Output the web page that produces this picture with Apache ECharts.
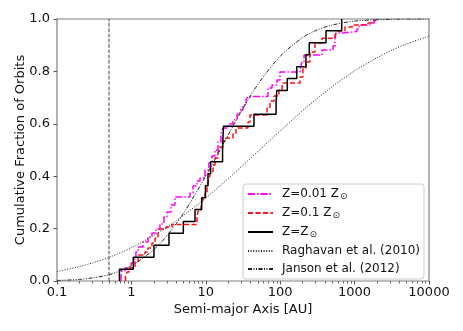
<!DOCTYPE html>
<html>
<head>
<meta charset="utf-8">
<script src="https://cdn.jsdelivr.net/npm/echarts@6/dist/echarts.min.js"></script>
<style>
html, body { margin: 0; padding: 0; background: #fff; }
#chart { width: 463px; height: 331px; }
</style>
</head>
<body>
<div id="chart"></div>
<script>
// semi-major axes [AU] and cumulative fraction
const zLowA = [0.725, 0.748, 0.82, 0.99, 1.08, 1.15, 1.23, 1.43, 1.67, 1.89, 2.14, 2.42, 2.74, 3.01, 3.40, 3.85, 6.13, 6.73, 7.62, 8.36, 9.75, 11.0, 12.1, 13.3, 14.6, 16.0, 17.0, 19.9, 23.2, 26.3, 28.8, 31.6, 34.7, 36.9, 68.5, 77.6, 90.6, 99.3, 185, 196, 209, 365, 513, 546, 563, 698, 1076, 1146, 1610, 1824, 1940]
const zLowFrac = [0.019, 0.038, 0.050, 0.069, 0.084, 0.111, 0.130, 0.149, 0.168, 0.183, 0.198, 0.218, 0.244, 0.263, 0.290, 0.321, 0.336, 0.363, 0.382, 0.393, 0.424, 0.450, 0.477, 0.500, 0.531, 0.561, 0.584, 0.599, 0.615, 0.637, 0.653, 0.672, 0.691, 0.704, 0.737, 0.748, 0.767, 0.798, 0.809, 0.836, 0.863, 0.882, 0.897, 0.927, 0.947, 0.952, 0.962, 0.977, 0.985, 0.992, 1.0]

const zMidA = [0.833, 0.873, 0.929, 1.12, 1.23, 1.52, 1.67, 1.89, 2.08, 2.28, 2.42, 2.92, 3.51, 7.62, 7.85, 8.62, 9.16, 9.75, 10.4, 11.0, 11.7, 12.5, 13.3, 14.6, 15.5, 17.0, 18.7, 23.2, 25.5, 36.9, 39.3, 66.5, 73.0, 82.6, 96.4, 106, 185, 202, 222, 251, 294, 365, 546, 580, 743, 951, 1514, 1714, 1824]
const zMidFrac = [0.019, 0.034, 0.050, 0.073, 0.099, 0.111, 0.126, 0.145, 0.164, 0.183, 0.198, 0.206, 0.216, 0.244, 0.267, 0.290, 0.313, 0.336, 0.359, 0.389, 0.416, 0.443, 0.469, 0.492, 0.511, 0.534, 0.546, 0.565, 0.584, 0.607, 0.634, 0.660, 0.687, 0.706, 0.729, 0.756, 0.779, 0.813, 0.836, 0.874, 0.908, 0.927, 0.939, 0.954, 0.969, 0.977, 0.985, 0.992, 1.0]

const zSunA = [0.69, 1.06, 2.01, 3.2, 4.99, 7.16, 8.8, 9.9, 10.7, 11.6, 16.8, 17.0, 17.3, 44.4, 88, 90, 124.5, 166.7, 222, 246, 413, 671]
const zSunFrac = [0.045, 0.091, 0.136, 0.182, 0.227, 0.273, 0.318, 0.364, 0.409, 0.455, 0.5, 0.545, 0.591, 0.636, 0.682, 0.727, 0.773, 0.818, 0.864, 0.909, 0.955, 1.0]

// model curves
const modelA = [0.1, 0.2, 0.3, 0.5, 1, 2, 3, 5, 10, 20, 30, 50, 100, 200, 300, 500, 1000, 2000, 3000, 5000, 10000]
const raghavan = [0.036, 0.055, 0.069, 0.090, 0.127, 0.174, 0.205, 0.250, 0.317, 0.391, 0.436, 0.494, 0.573, 0.650, 0.692, 0.742, 0.802, 0.852, 0.878, 0.905, 0.934]
const janson = [0.002, 0.006, 0.012, 0.024, 0.058, 0.120, 0.173, 0.258, 0.401, 0.558, 0.648, 0.750, 0.858, 0.929, 0.956, 0.977, 0.992, 0.997, 0.999, 1.0, 1.0]

const cutA = [0.5, 0.5]
const cutFrac = [0, 1]

const xTickLabels = ['0.1', '1', '10', '100', '1000', '10000']
const yTickLabels = ['0.0', '0.2', '0.4', '0.6', '0.8', '1.0']
const minorTicks = [0.2, 0.3, 0.4, 0.5, 0.6, 0.7, 0.8, 0.9, 2, 3, 4, 5, 6, 7, 8, 9, 20, 30, 40, 50, 60, 70, 80, 90, 200, 300, 400, 500, 600, 700, 800, 900, 2000, 3000, 4000, 5000, 6000, 7000, 8000, 9000]

const legendNames = ['Z=0.01 Z⊙', 'Z=0.1 Z⊙', 'Z=Z⊙', 'Raghavan et al. (2010)', 'Janson et al. (2012)']
const legendRich = {
  'Z=0.01 Z⊙': 'Z=0.01 Z{sun|⊙}',
  'Z=0.1 Z⊙': 'Z=0.1 Z{sun|⊙}',
  'Z=Z⊙': 'Z=Z{sun|⊙}',
  'Raghavan et al. (2010)': 'Raghavan et al. (2010)',
  'Janson et al. (2012)': 'Janson et al. (2012)'
}

const font = 'DejaVu Sans'

function cdf(a, f) {
  const pts = [[a[0], 0]]
  a.forEach((v, i) => pts.push([v, f[i]]))
  return pts
}
function pairs(a, f) {
  return a.map((v, i) => [v, f[i]])
}

const stepLine = (name, data, color, type, z) => ({
  name: name,
  type: 'line',
  step: 'end',
  data: data,
  symbol: 'none',
  silent: true,
  z: z,
  lineStyle: { color: color, width: 1.5, type: type },
  itemStyle: { color: color }
})

const option = {
  backgroundColor: '#fff',
  animation: false,
  grid: {
    left: 57,
    right: 34,
    top: 19,
    bottom: 50,
    show: true,
    borderColor: '#808080',
    borderWidth: 1.2,
    outerBoundsMode: 'none'
  },
  legend: {
    data: legendNames,
    orient: 'vertical',
    left: 243,
    top: 184,
    itemWidth: 25,
    itemHeight: 12,
    itemGap: 6,
    padding: [4, 4, 4, 4],
    borderColor: '#cccccc',
    borderWidth: 1,
    borderRadius: 3,
    backgroundColor: 'rgba(255,255,255,0.85)',
    itemStyle: { opacity: 0 },
    formatter: name => legendRich[name],
    textStyle: {
      fontFamily: font,
      fontSize: 12,
      color: '#111',
      padding: [0, 0, 0, 4],
      rich: {
        sun: { fontFamily: font, fontSize: 9, color: '#111', padding: [5, 0, 0, 1] }
      }
    }
  },
  xAxis: [
    {
      type: 'log',
      logBase: 10,
      min: 0.1,
      max: 10000,
      splitNumber: 5,
      name: 'Semi-major Axis [AU]',
      nameLocation: 'middle',
      nameGap: 22,
      nameMoveOverlap: false,
      nameTextStyle: { fontFamily: font, fontSize: 13, color: '#111' },
      axisLine: { show: false },
      axisTick: { show: true, inside: false, length: 3.5, lineStyle: { color: '#555', width: 1 } },
      axisLabel: {
        fontFamily: font,
        fontSize: 13,
        color: '#111',
        margin: 5,
        formatter: v => xTickLabels[Math.round(Math.log10(v)) + 1]
      },
      splitLine: { show: false }
    },
    {
      // minor log ticks
      type: 'log',
      logBase: 10,
      min: 0.1,
      max: 10000,
      position: 'bottom',
      offset: 0,
      axisLine: { show: false },
      axisLabel: { show: false },
      splitLine: { show: false },
      axisTick: {
        show: true,
        inside: false,
        length: 2.5,
        customValues: minorTicks,
        lineStyle: { color: '#666', width: 1 }
      }
    }
  ],
  yAxis: {
    type: 'value',
    min: 0,
    max: 1,
    interval: 0.2,
    name: 'Cumulative Fraction of Orbits',
    nameLocation: 'middle',
    nameGap: 30,
    nameMoveOverlap: false,
    nameTextStyle: { fontFamily: font, fontSize: 13, color: '#111' },
    axisLine: { show: false },
    axisTick: { show: true, inside: false, length: 3.5, lineStyle: { color: '#555', width: 1 } },
    axisLabel: {
      fontFamily: font,
      fontSize: 13,
      color: '#111',
      margin: 7,
      formatter: v => yTickLabels[Math.round(v * 5)]
    },
    splitLine: { show: false }
  },
  series: [
    stepLine('Z=0.01 Z⊙', cdf(zLowA, zLowFrac), '#ff00ff', [7, 2, 1.5, 2], 3),
    stepLine('Z=0.1 Z⊙', cdf(zMidA, zMidFrac), '#ff1010', [5, 2.5], 4),
    stepLine('Z=Z⊙', cdf(zSunA, zSunFrac), '#000000', 'solid', 5),
    {
      name: 'Raghavan et al. (2010)',
      type: 'line',
      smooth: 0.3,
      data: pairs(modelA, raghavan),
      symbol: 'none',
      silent: true,
      z: 6,
      lineStyle: { color: '#222', width: 1, type: [1, 1.6] },
      itemStyle: { color: '#222' }
    },
    {
      name: 'Janson et al. (2012)',
      type: 'line',
      smooth: 0.3,
      data: pairs(modelA, janson),
      symbol: 'none',
      silent: true,
      z: 6,
      lineStyle: { color: '#222', width: 1, type: [4, 1.5, 1, 1.5, 1, 1.5] },
      itemStyle: { color: '#222' }
    },
    {
      name: 'cut',
      type: 'line',
      data: pairs(cutA, cutFrac),
      symbol: 'none',
      silent: true,
      z: 2,
      lineStyle: { color: '#444', width: 1, type: [3.7, 1.6] }
    }
  ]
}

const chart = echarts.init(document.getElementById('chart'))
chart.setOption(option)
</script>
</body>
</html>
